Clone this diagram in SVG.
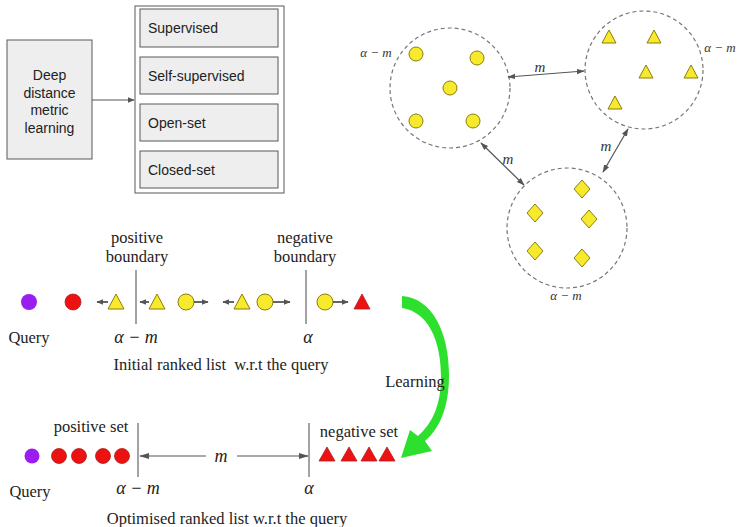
<svg xmlns="http://www.w3.org/2000/svg" width="738" height="527" viewBox="0 0 738 527">
<style>
.box{fill:#eeeeee;stroke:#595959;stroke-width:1}
.cont{fill:#ffffff;stroke:#595959;stroke-width:1}
.sans{font-family:"Liberation Sans",Arial,sans-serif;font-size:14px;fill:#222}
.serif{font-family:"Liberation Serif","Times New Roman",serif;font-size:16.5px;fill:#222}
.math{font-family:"Liberation Serif","Times New Roman",serif;font-style:italic;font-size:18px;fill:#222}
.smath{font-family:"Liberation Serif","Times New Roman",serif;font-style:italic;font-size:13px;fill:#333}
.mmath{font-family:"Liberation Serif","Times New Roman",serif;font-style:italic;font-size:15px;fill:#333}
.clus{fill:none;stroke:#777;stroke-width:1.2;stroke-dasharray:4 3}
.yel{fill:#f7ea2c;stroke:#8c7d10;stroke-width:1}
.red{fill:#ee1111;stroke:#a22;stroke-width:0.8}
.pur{fill:#9b1ef0;stroke:none}
.ln{stroke:#666;stroke-width:1.2;fill:none}
.conn{stroke:#555;stroke-width:1.2;fill:none}
.sa{stroke:#555;stroke-width:1.8;fill:none}
</style>
<defs>
<marker id="ah" viewBox="0 0 10 10" refX="9" refY="5" markerWidth="7" markerHeight="7" orient="auto-start-reverse" markerUnits="userSpaceOnUse">
<path d="M0,1 L10,5 L0,9 z" fill="#555"/>
</marker>
<marker id="ah2" viewBox="0 0 10 10" refX="9" refY="5" markerWidth="8" markerHeight="8" orient="auto-start-reverse" markerUnits="userSpaceOnUse">
<path d="M0,1.5 L10,5 L0,8.5 z" fill="#555"/>
</marker>
<marker id="ah3" viewBox="0 0 10 10" refX="9" refY="5" markerWidth="10" markerHeight="10" orient="auto-start-reverse" markerUnits="userSpaceOnUse">
<path d="M0,2 L10,5 L0,8 z" fill="#555"/>
</marker>
</defs>

<!-- Top-left taxonomy -->
<g id="deep">
<rect class="box" x="7" y="40" width="85" height="119"/>
<text class="sans" text-anchor="middle" x="49.5" y="80">Deep</text>
<text class="sans" text-anchor="middle" x="49.5" y="98">distance</text>
<text class="sans" text-anchor="middle" x="49.5" y="115">metric</text>
<text class="sans" text-anchor="middle" x="49.5" y="133">learning</text>
</g>
<g id="container">
<rect class="cont" x="135" y="6" width="149" height="187"/>
</g>
<g id="supervised"><rect class="box" x="140" y="9" width="138" height="38"/><text class="sans" x="148" y="33">Supervised</text></g>
<g id="selfsupervised"><rect class="box" x="140" y="57" width="138" height="37"/><text class="sans" x="148" y="81">Self-supervised</text></g>
<g id="openset"><rect class="box" x="140" y="104" width="138" height="37"/><text class="sans" x="148" y="128">Open-set</text></g>
<g id="closedset"><rect class="box" x="140" y="151" width="138" height="37"/><text class="sans" x="148" y="175">Closed-set</text></g>

<!-- Clusters -->
<g id="cluster-circles">
<circle class="clus" cx="450" cy="88" r="60"/>
<circle class="yel" cx="416" cy="54" r="7"/>
<circle class="yel" cx="477" cy="58" r="7"/>
<circle class="yel" cx="450" cy="88" r="7"/>
<circle class="yel" cx="416" cy="121" r="7"/>
<circle class="yel" cx="473" cy="121" r="7"/>
<text class="smath" x="376" y="57" text-anchor="middle">α − m</text>
</g>
<g id="cluster-triangles">
<circle class="clus" cx="644" cy="70" r="59"/>
<polygon class="yel" points="609,30 616,43 602,43"/>
<polygon class="yel" points="654,30 661,43 647,43"/>
<polygon class="yel" points="646,65 653,78 639,78"/>
<polygon class="yel" points="691,65 698,78 684,78"/>
<polygon class="yel" points="615,96 622,109 608,109"/>
<text class="smath" x="720" y="52" text-anchor="middle">α − m</text>
</g>
<g id="cluster-diamonds">
<circle class="clus" cx="567" cy="228" r="60"/>
<polygon class="yel" points="582,180 590,189 582,198 574,189"/>
<polygon class="yel" points="535,204 543,213 535,222 527,213"/>
<polygon class="yel" points="589,210 597,219 589,228 581,219"/>
<polygon class="yel" points="535,242 543,251 535,260 527,251"/>
<polygon class="yel" points="582,249 590,258 582,267 574,258"/>
<text class="smath" x="566" y="300" text-anchor="middle">α − m</text>
</g>

<!-- Ranked lists -->
<g id="initial-list">
<text class="serif" x="137" y="243" text-anchor="middle">positive</text>
<text class="serif" x="137" y="262" text-anchor="middle">boundary</text>
<text class="serif" x="305" y="243" text-anchor="middle">negative</text>
<text class="serif" x="305" y="262" text-anchor="middle">boundary</text>
<line class="ln" x1="136" y1="270" x2="136" y2="324"/>
<line class="ln" x1="306" y1="270" x2="306" y2="324"/>
<circle class="pur" cx="29" cy="302" r="8"/>
<circle class="red" cx="73" cy="302" r="8"/>
<polygon class="yel" points="116,294 124,309 108,309"/>
<polygon class="yel" points="157,294 165,309 149,309"/>
<circle class="yel" cx="186" cy="302" r="8"/>
<polygon class="yel" points="242,294 250,309 234,309"/>
<circle class="yel" cx="265" cy="302" r="8"/>
<circle class="yel" cx="325" cy="302" r="8"/>
<polygon class="red" points="362,294 370,309 354,309"/>
<text class="serif" x="29" y="343" text-anchor="middle">Query</text>
<text class="math" x="136" y="343" text-anchor="middle">α − m</text>
<text class="math" x="308" y="343" text-anchor="middle">α</text>
<text class="serif" x="221" y="370" text-anchor="middle">Initial ranked list &#160;w.r.t the query</text>
</g>

<g id="optimised-list">
<text class="serif" x="91" y="432" text-anchor="middle">positive set</text>
<text class="serif" x="359" y="437" text-anchor="middle">negative set</text>
<line class="ln" x1="138" y1="423" x2="138" y2="477"/>
<line class="ln" x1="309" y1="423" x2="309" y2="477"/>
<circle class="pur" cx="32" cy="456" r="7.5"/>
<circle class="red" cx="59" cy="456" r="7.5"/>
<circle class="red" cx="79" cy="456" r="7.5"/>
<circle class="red" cx="103" cy="456" r="7.5"/>
<circle class="red" cx="122" cy="456" r="7.5"/>
<polygon class="red" points="327,447 335,461 319,461"/>
<polygon class="red" points="349,447 357,461 341,461"/>
<polygon class="red" points="369,447 377,461 361,461"/>
<polygon class="red" points="387,447 395,461 379,461"/>
<text class="math" x="221" y="462" text-anchor="middle">m</text>
<text class="serif" x="30" y="497" text-anchor="middle">Query</text>
<text class="math" x="138" y="494" text-anchor="middle">α − m</text>
<text class="math" x="309" y="494" text-anchor="middle">α</text>
<text class="serif" x="227" y="524" text-anchor="middle">Optimised ranked list w.r.t the query</text>
</g>

<g id="learning">
<path d="M402,296 C432,298 449,332 449,375 C449,405 441,427 425,441 L432,451 L401,458 L410,430 L418,436 C433,423 441,404 441,377 C441,340 428,312 402,308 Z" fill="#2ee02e"/>
<text class="serif" x="415" y="387" text-anchor="middle">Learning</text>
</g>

<!-- Connectors -->
<g id="connectors">
<line class="conn" x1="92" y1="100" x2="134" y2="100" marker-end="url(#ah)"/>
<line class="conn" x1="508" y1="77" x2="584" y2="71" marker-start="url(#ah2)" marker-end="url(#ah2)"/>
<line class="conn" x1="481" y1="143" x2="524" y2="185" marker-start="url(#ah2)" marker-end="url(#ah2)"/>
<line class="conn" x1="628" y1="129" x2="603" y2="172" marker-start="url(#ah2)" marker-end="url(#ah2)"/>
<text class="mmath" x="540" y="72" text-anchor="middle">m</text>
<text class="mmath" x="508" y="164" text-anchor="middle">m</text>
<text class="mmath" x="606" y="151" text-anchor="middle">m</text>
<line class="sa" x1="108" y1="302" x2="97" y2="302" marker-end="url(#ah)"/>
<line class="sa" x1="149" y1="302" x2="140" y2="302" marker-end="url(#ah)"/>
<line class="sa" x1="194" y1="302" x2="208" y2="302" marker-end="url(#ah)"/>
<line class="sa" x1="234" y1="302" x2="223" y2="302" marker-end="url(#ah)"/>
<line class="sa" x1="273" y1="302" x2="290" y2="302" marker-end="url(#ah)"/>
<line class="sa" x1="333" y1="302" x2="348" y2="302" marker-end="url(#ah)"/>
<line class="conn" x1="206" y1="456" x2="140" y2="456" marker-end="url(#ah3)"/>
<line class="conn" x1="237" y1="456" x2="308" y2="456" marker-end="url(#ah3)"/>
</g>
</svg>
